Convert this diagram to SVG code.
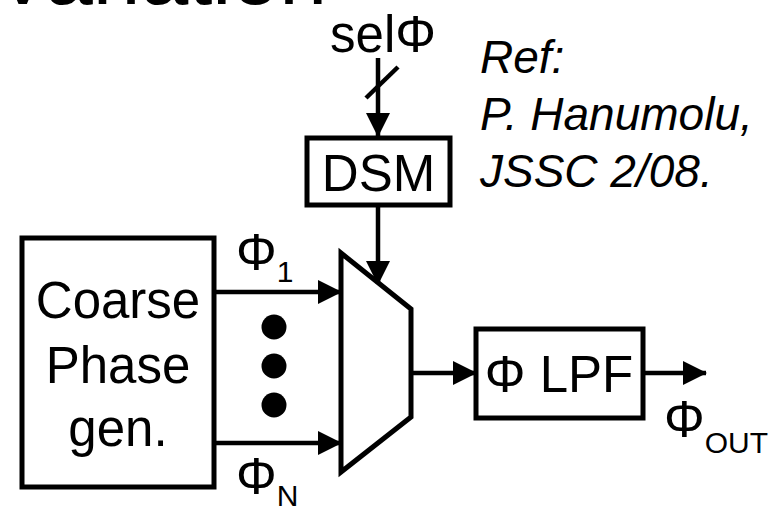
<svg xmlns="http://www.w3.org/2000/svg" width="782" height="508" viewBox="0 0 782 508">
<style>
text{font-family:"Liberation Sans",Arial,sans-serif;fill:#000}
.lbl{font-size:51px}
.ref{font-size:46px;font-style:italic}
.sub{font-size:30px}
.box{fill:#fff;stroke:#000;stroke-width:5}
.wire{stroke:#000;stroke-width:4.5;fill:none}
</style>
<defs>
<marker id="ah" markerUnits="userSpaceOnUse" markerWidth="24" markerHeight="24" viewBox="0 0 24 24" refX="23" refY="12" orient="auto">
<path d="M0,0 L24,12 L0,24 Z" fill="#000"/>
</marker>
</defs>
<text x="-6" y="3.5" style="font-size:86px">Variation</text>
<g id="ref-note">
<text class="ref" x="480" y="73">Ref:</text>
<text class="ref" x="480" y="130">P. Hanumolu,</text>
<text class="ref" x="480" y="187">JSSC 2/08.</text>
</g>
<g id="sel">
<text class="lbl" x="383" y="52" text-anchor="middle">selΦ</text>
</g>
<g id="dsm">
<rect class="box" x="307" y="138" width="143" height="67"/>
<text class="lbl" x="378.5" y="191" text-anchor="middle">DSM</text>
</g>
<g id="coarse">
<rect class="box" x="22" y="238" width="192" height="249"/>
<text class="lbl" x="118" y="318" text-anchor="middle">Coarse</text>
<text class="lbl" x="118" y="383" text-anchor="middle">Phase</text>
<text class="lbl" x="118" y="446" text-anchor="middle">gen.</text>
</g>
<g id="mux">
<path class="box" d="M341,253 L411,309 L411,417 L341,472 Z"/>
</g>
<g id="lpf">
<rect class="box" x="476" y="329" width="167" height="89"/>
<text class="lbl" x="559" y="392" text-anchor="middle">Φ LPF</text>
</g>
<g id="dots">
<circle cx="274" cy="327" r="12.5"/>
<circle cx="274" cy="366" r="12.5"/>
<circle cx="274" cy="405" r="12.5"/>
</g>
<g id="connectors">
<line class="wire" x1="378" y1="58" x2="378" y2="136" marker-end="url(#ah)"/>
<line class="wire" x1="366" y1="98" x2="398" y2="67"/>
<line class="wire" x1="378" y1="205" x2="378" y2="284" marker-end="url(#ah)"/>
<line class="wire" x1="214" y1="292" x2="341" y2="292" marker-end="url(#ah)"/>
<line class="wire" x1="214" y1="443" x2="341" y2="443" marker-end="url(#ah)"/>
<line class="wire" x1="411" y1="373" x2="476" y2="373" marker-end="url(#ah)"/>
<line class="wire" x1="643" y1="373" x2="706" y2="373" marker-end="url(#ah)"/>
</g>
<g id="labels">
<text class="lbl" x="236" y="270">Φ<tspan class="sub" dy="12">1</tspan></text>
<text class="lbl" x="236" y="494">Φ<tspan class="sub" dy="12">N</tspan></text>
<text class="lbl" x="664" y="437">Φ<tspan class="sub" dy="16">OUT</tspan></text>
</g>
</svg>
